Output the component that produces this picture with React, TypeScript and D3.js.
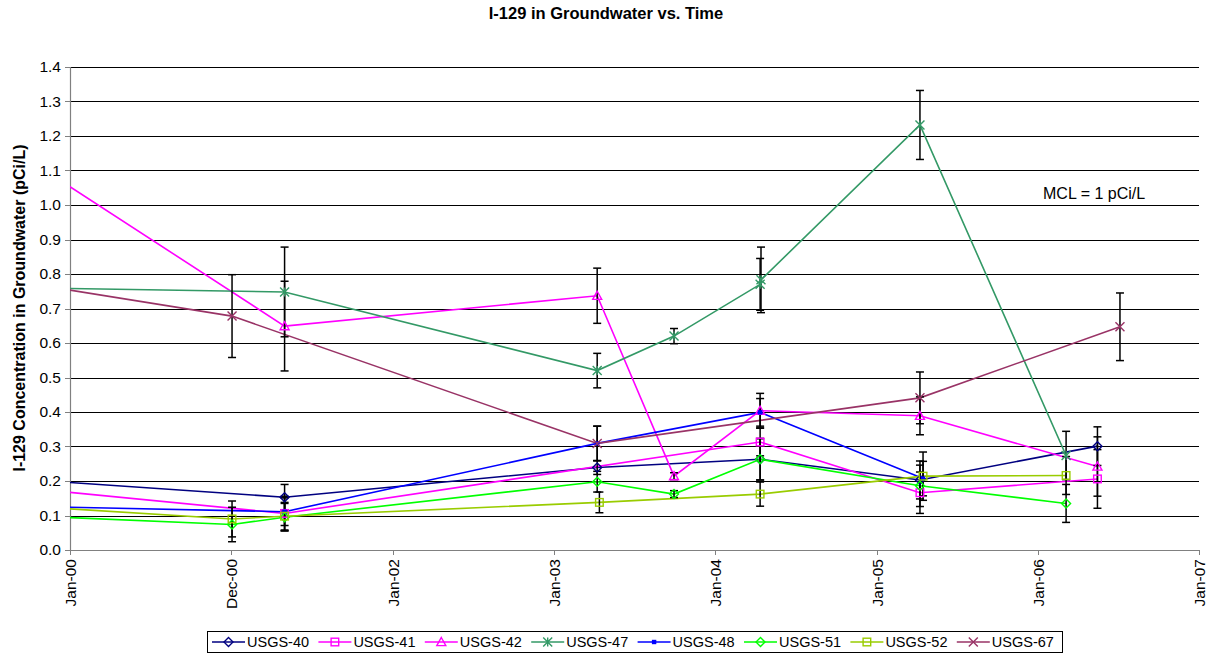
import React from "react";
import * as d3 from "d3";

// ---------- DATA ----------
const yTicks = [0, 0.1, 0.2, 0.3, 0.4, 0.5, 0.6, 0.7, 0.8, 0.9, 1.0, 1.1, 1.2, 1.3, 1.4];
const xTickDates = ["2000-01-01", "2000-12-31", "2002-01-01", "2003-01-01", "2004-01-01", "2005-01-01", "2006-01-01", "2007-01-01"];
const xDomain = ["2000-01-01", "2007-01-01"];

// [date, value, ±error]
const usgs40 = [
  ["1999-07-01", 0.212, 0],
  ["2001-05-01", 0.153, 0.037],
  ["2003-04-09", 0.239, 0.02],
  ["2004-04-12", 0.263, 0.06],
  ["2005-04-09", 0.203, 0.055],
  ["2006-05-16", 0.301, 0.056],
];
const usgs41 = [
  ["1999-07-01", 0.19, 0],
  ["2001-05-01", 0.106, 0.05],
  ["2004-04-12", 0.313, 0.04],
  ["2005-04-09", 0.166, 0.06],
  ["2006-05-16", 0.206, 0.085],
];
const usgs42 = [
  ["1999-07-01", 1.206, 0],
  ["2001-05-01", 0.649, 0.13],
  ["2003-04-09", 0.737, 0.08],
  ["2003-09-30", 0.214, 0.01],
  ["2004-04-12", 0.404, 0.05],
  ["2005-04-09", 0.389, 0.055],
  ["2006-05-16", 0.242, 0.086],
];
const usgs47 = [
  ["1999-07-01", 0.762, 0],
  ["2001-05-01", 0.748, 0.13],
  ["2003-04-09", 0.52, 0.05],
  ["2003-09-30", 0.62, 0.022],
  ["2004-04-12", 0.77, 0.075],
  ["2004-04-14", 0.783, 0.095],
  ["2005-04-09", 1.232, 0.1],
  ["2006-03-06", 0.274, 0.07],
];
const usgs48 = [
  ["1999-07-01", 0.129, 0],
  ["2001-05-01", 0.111, 0.04],
  ["2003-04-09", 0.309, 0.05],
  ["2004-04-12", 0.399, 0.04],
  ["2005-04-16", 0.207, 0.05],
];
const usgs51 = [
  ["1999-07-01", 0.104, 0],
  ["2001-01-02", 0.074, 0.05],
  ["2001-05-01", 0.095, 0.04],
  ["2003-04-09", 0.198, 0.03],
  ["2003-09-30", 0.162, 0.01],
  ["2004-04-12", 0.263, 0.06],
  ["2005-04-09", 0.186, 0.06],
  ["2006-03-06", 0.135, 0.055],
];
const usgs52 = [
  ["1999-07-01", 0.134, 0],
  ["2001-01-02", 0.09, 0.052],
  ["2001-05-01", 0.098, 0.04],
  ["2003-04-14", 0.138, 0.03],
  ["2004-04-12", 0.162, 0.035],
  ["2005-04-16", 0.214, 0.07],
  ["2006-03-06", 0.216, 0.055],
];
const usgs67 = [
  ["1999-07-01", 0.791, 0],
  ["2001-01-02", 0.678, 0.12],
  ["2003-04-09", 0.309, 0.05],
  ["2005-04-09", 0.441, 0.075],
  ["2006-07-06", 0.647, 0.098],
];

const seriesNames = ["USGS-40", "USGS-41", "USGS-42", "USGS-47", "USGS-48", "USGS-51", "USGS-52", "USGS-67"];
const seriesData = [usgs40, usgs41, usgs42, usgs47, usgs48, usgs51, usgs52, usgs67];
const seriesColors = ["#000080", "#FF00FF", "#FF00FF", "#339966", "#0000FF", "#00FF00", "#99CC00", "#993366"];
const seriesMarkers = ["diamond", "square", "triangle", "star", "smallsquare", "diamond", "square", "x"];

const titleText = "I-129 in Groundwater vs. Time";
const yTitleText = "I-129 Concentration in Groundwater (pCi/L)";
const mclText = "MCL = 1 pCi/L";

// ---------- LAYOUT ----------
const W = 1212, H = 655;
const left = 70, right = 1199, top = 67, bottom = 550;
const FONT = "Arial, 'Liberation Sans', Helvetica, sans-serif";

const parse = d3.timeParse("%Y-%m-%d");
const x = d3.scaleTime().domain(xDomain.map((d) => parse(d) as Date)).range([left, right]);
const y = d3.scaleLinear().domain([0, 1.4]).range([bottom, top]);
const fmtY = d3.format(".1f");
const fmtX = d3.timeFormat("%b-%y");

function Marker({ type, cx, cy, color }: { type: string; cx: number; cy: number; color: string }) {
  const sw = 1.4;
  if (type === "diamond") {
    const r = 4.5;
    return <path d={`M${cx},${cy - r}L${cx + r},${cy}L${cx},${cy + r}L${cx - r},${cy}Z`} fill="none" stroke={color} strokeWidth={sw} />;
  }
  if (type === "square") {
    const r = 3.8;
    return <rect x={cx - r} y={cy - r} width={2 * r} height={2 * r} fill="none" stroke={color} strokeWidth={sw} />;
  }
  if (type === "smallsquare") {
    const r = 2.2;
    return <rect x={cx - r} y={cy - r} width={2 * r} height={2 * r} fill={color} stroke="none" />;
  }
  if (type === "triangle") {
    const r = 4.5;
    return <path d={`M${cx},${cy - r}L${cx + r},${cy + r * 0.8}L${cx - r},${cy + r * 0.8}Z`} fill="none" stroke={color} strokeWidth={sw} />;
  }
  if (type === "star") {
    const r = 4.5;
    return (
      <path
        d={`M${cx - r},${cy - r}L${cx + r},${cy + r}M${cx - r},${cy + r}L${cx + r},${cy - r}M${cx},${cy - r}L${cx},${cy + r}`}
        stroke={color}
        strokeWidth={sw}
        fill="none"
      />
    );
  }
  const r = 4.5;
  return <path d={`M${cx - r},${cy - r}L${cx + r},${cy + r}M${cx - r},${cy + r}L${cx + r},${cy - r}`} stroke={color} strokeWidth={sw} fill="none" />;
}

export default function App() {
  const line = d3
    .line<any>()
    .x((d) => x(parse(d[0]) as Date))
    .y((d) => y(d[1]));

  const legendX0 = 212;
  const legendStep = 106.4;
  const legendY = 642;

  return (
    <svg
      width={W}
      height={H}
      style={{ position: "absolute", left: 0, top: 0, background: "#fff" }}
      fontFamily={FONT}
    >
      <defs>
        <clipPath id="plotclip">
          <rect x={left} y={top - 2} width={right - left} height={bottom - top + 2} />
        </clipPath>
      </defs>
      <rect x={0} y={0} width={W} height={H} fill="#fff" />

      {/* title */}
      <text x={606} y={19} textAnchor="middle" fontWeight="bold" fontSize={16.5} fill="#000">
        {titleText}
      </text>

      {/* gridlines */}
      {yTicks.filter((t) => t > 0).map((t) => (
        <line key={"g" + t} x1={left} x2={right} y1={Math.round(y(t)) + 0.5} y2={Math.round(y(t)) + 0.5} stroke="#000" strokeWidth={1} />
      ))}

      {/* axes */}
      <line x1={left + 0.5} x2={left + 0.5} y1={top} y2={bottom} stroke="#808080" strokeWidth={1.2} />
      <line x1={left} x2={right} y1={bottom + 0.5} y2={bottom + 0.5} stroke="#808080" strokeWidth={1.2} />
      {yTicks.map((t) => (
        <g key={"yt" + t}>
          <line x1={left - 5} x2={left} y1={Math.round(y(t)) + 0.5} y2={Math.round(y(t)) + 0.5} stroke="#808080" />
          <text x={61} y={y(t)} dy="0.35em" textAnchor="end" fontSize={15.5} fill="#000">
            {fmtY(t)}
          </text>
        </g>
      ))}
      {xTickDates.map((ds) => {
        const xx = Math.round(x(parse(ds) as Date)) + 0.5;
        return (
          <g key={"xt" + ds}>
            <line x1={xx} x2={xx} y1={bottom} y2={bottom + 5} stroke="#808080" />
            <text transform={`translate(${xx},${bottom + 9}) rotate(-90)`} dy="0.35em" textAnchor="end" fontSize={15.5} fill="#000">
              {fmtX(parse(ds) as Date)}
            </text>
          </g>
        );
      })}

      {/* y title */}
      <text transform={`translate(19,308) rotate(-90)`} dy="0.35em" textAnchor="middle" fontWeight="bold" fontSize={16} fill="#000">
        {yTitleText}
      </text>

      {/* MCL label */}
      <text x={1043} y={199} fontSize={16} fill="#000">
        {mclText}
      </text>

      {/* series lines */}
      <g clipPath="url(#plotclip)">
        {seriesData.map((s, i) => (
          <path key={"l" + i} d={line(s) || ""} fill="none" stroke={seriesColors[i]} strokeWidth={1.6} />
        ))}
      </g>

      {/* error bars */}
      <g clipPath="url(#plotclip)">
        {seriesData.map((s, i) =>
          s
            .filter((d: any) => d[2] > 0)
            .map((d: any, j: number) => {
              const cx = x(parse(d[0]) as Date);
              const y1 = y(d[1] + d[2]);
              const y2 = y(d[1] - d[2]);
              return (
                <g key={`e${i}-${j}`} stroke="#000" strokeWidth={1.5}>
                  <line x1={cx} x2={cx} y1={y1} y2={y2} />
                  <line x1={cx - 4} x2={cx + 4} y1={y1} y2={y1} />
                  <line x1={cx - 4} x2={cx + 4} y1={y2} y2={y2} />
                </g>
              );
            })
        )}
      </g>

      {/* markers */}
      <g clipPath="url(#plotclip)">
        {seriesData.map((s, i) =>
          s.map((d: any, j: number) => (
            <Marker key={`m${i}-${j}`} type={seriesMarkers[i]} cx={x(parse(d[0]) as Date)} cy={y(d[1])} color={seriesColors[i]} />
          ))
        )}
      </g>

      {/* legend */}
      <rect x={207.5} y={631.5} width={855} height={21} fill="#fff" stroke="#000" strokeWidth={1} />
      {seriesNames.map((n, i) => {
        const lx = legendX0 + i * legendStep;
        return (
          <g key={"lg" + i}>
            <line x1={lx} x2={lx + 33} y1={legendY} y2={legendY} stroke={seriesColors[i]} strokeWidth={1.6} />
            <Marker type={seriesMarkers[i]} cx={lx + 16.5} cy={legendY} color={seriesColors[i]} />
            <text x={lx + 35} y={legendY} dy="0.35em" fontSize={14.5} fill="#000">
              {n}
            </text>
          </g>
        );
      })}
    </svg>
  );
}
